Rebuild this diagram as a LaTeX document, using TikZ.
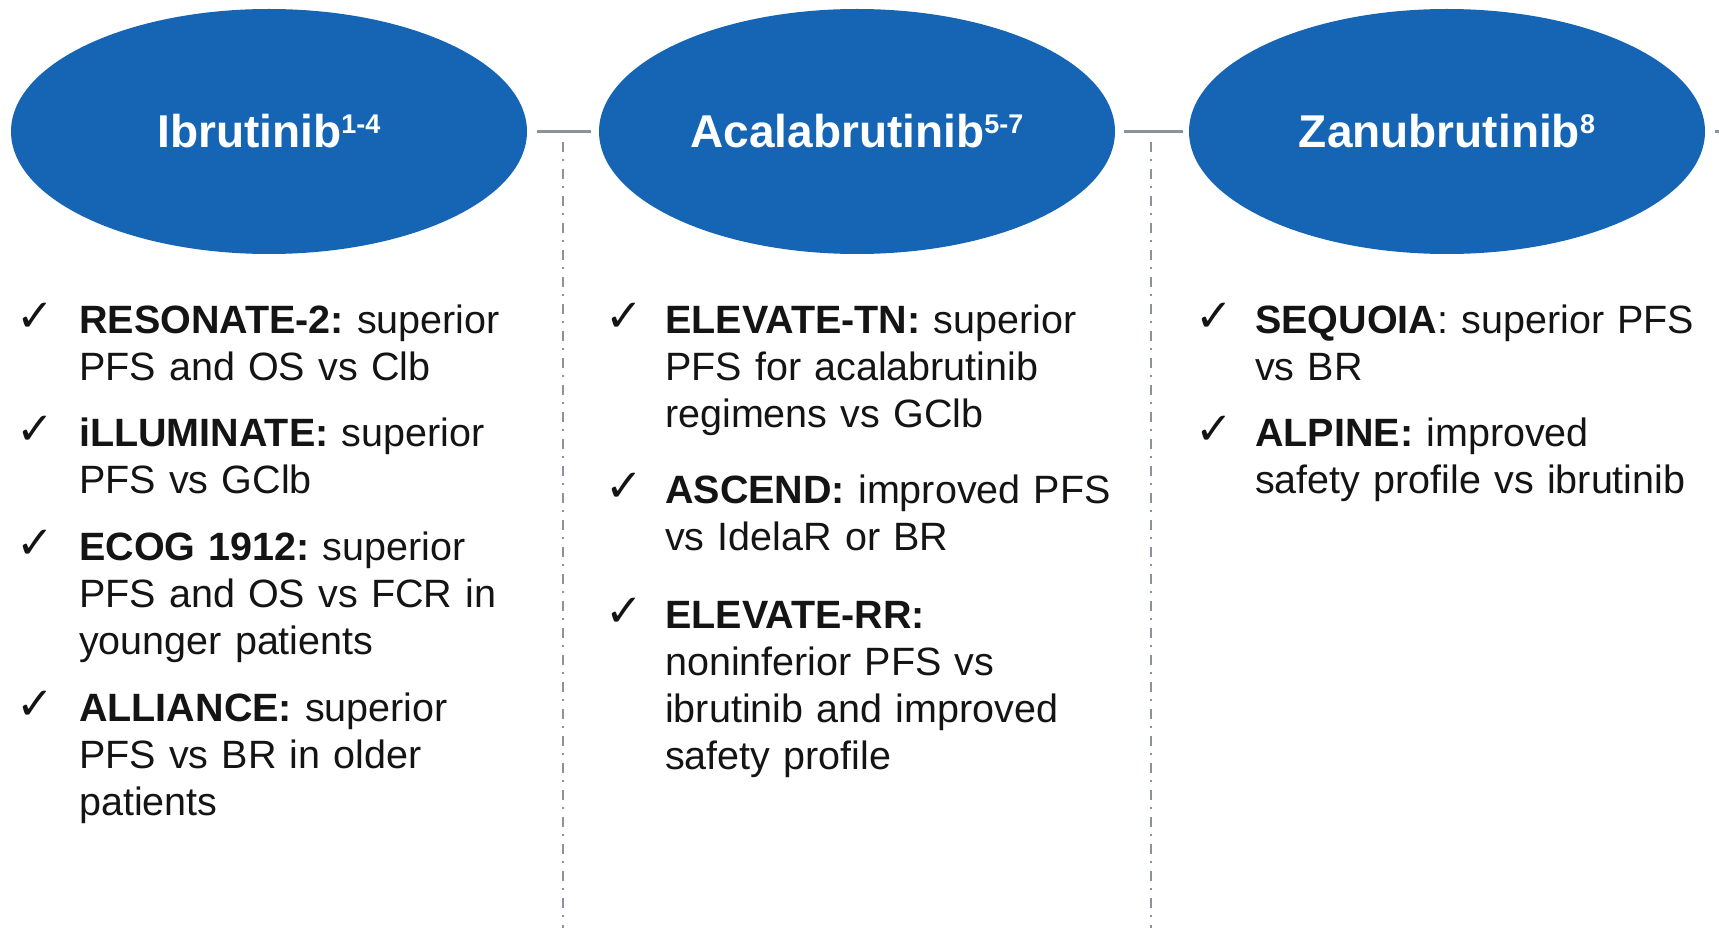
\documentclass[tikz,border=0pt]{standalone}
\usepackage{fontspec}
\usetikzlibrary{shapes.geometric}
\setmainfont{Liberation Sans}
\newfontfamily\symfont{DejaVu Sans}
\definecolor{pillblue}{RGB}{22,101,181}
\definecolor{linegray}{RGB}{140,146,155}
\definecolor{txt}{RGB}{20,20,20}
\frenchspacing
\begin{document}
\begin{tikzpicture}[x=1pt,y=-1pt,
  pill/.style={ellipse, fill=pillblue, minimum width=516pt, minimum height=245pt, inner sep=0pt, text=white, font=\fontsize{46}{52}\selectfont\bfseries},
  link/.style={draw=linegray, line width=3pt},
  divider/.style={draw=linegray, line width=2.4pt, dash pattern=on 10pt off 7pt on 2pt off 8pt},
  tick/.style={anchor=base west, inner sep=0pt, text=txt, font=\symfont\fontsize{45}{45}\selectfont},
  item/.style={anchor=base west, inner sep=0pt, text=txt, text width=560pt, align=left, font=\fontsize{39.5}{47}\selectfont}]
\useasboundingbox (0,0) rectangle (1719,928);
\newcommand{\sups}[1]{\raisebox{14pt}{\fontsize{27}{27}\selectfont #1}}
% dividers
\coordinate (d1t) at (563,142);
\coordinate (d1b) at (563,928);
\coordinate (d2t) at (1151,142);
\coordinate (d2b) at (1151,928);
\draw[divider] (d1t) -- (d1b);
\draw[divider] (d2t) -- (d2b);
% pills
\node[pill] (e1) at (269,131.5) {Ibrutinib\sups{1-4}};
\node[pill] (e2) at (857,131.5) {Acalabrutinib\sups{5-7}};
\node[pill] (e3) at (1447,131.5) {Zanubrutinib\sups{8}};
\coordinate (edge) at (1719,131.5);
\draw[link, shorten <=10pt, shorten >=8pt] (e1) -- (e2);
\draw[link, shorten <=9pt, shorten >=6pt] (e2) -- (e3);
\draw[link, shorten <=10pt] (e3) -- (edge);
% column 1
\node[tick] (t11) at (16,331) {✓};
\node[item] (i11) at (79,333) {\textbf{RESONATE-2:} superior\\PFS and OS vs Clb};
\node[tick] (t12) at (16,444) {✓};
\node[item] (i12) at (79,446) {\textbf{iLLUMINATE:} superior\\PFS vs GClb};
\node[tick] (t13) at (16,558) {✓};
\node[item] (i13) at (79,560) {\textbf{ECOG 1912:} superior\\PFS and OS vs FCR in\\younger patients};
\node[tick] (t14) at (16,719) {✓};
\node[item] (i14) at (79,721) {\textbf{ALLIANCE:} superior\\PFS vs BR in older\\patients};
% column 2
\node[tick] (t21) at (605,331) {✓};
\node[item] (i21) at (665,333) {\textbf{ELEVATE-TN:} superior\\PFS for acalabrutinib\\regimens vs GClb};
\node[tick] (t22) at (605,501) {✓};
\node[item] (i22) at (665,503) {\textbf{ASCEND:} improved PFS\\vs IdelaR or BR};
\node[tick] (t23) at (605,626) {✓};
\node[item] (i23) at (665,628) {\textbf{ELEVATE-RR:}\\noninferior PFS vs\\ibrutinib and improved\\safety profile};
% column 3
\node[tick] (t31) at (1195,331) {✓};
\node[item] (i31) at (1255,333) {\textbf{SEQUOIA}: superior PFS\\vs BR};
\node[tick] (t32) at (1195,444) {✓};
\node[item] (i32) at (1255,446) {\textbf{ALPINE:} improved\\safety profile vs ibrutinib};
\end{tikzpicture}
\end{document}
